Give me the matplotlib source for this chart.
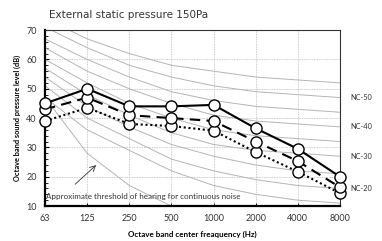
import numpy as np
import matplotlib
matplotlib.use("Agg")
import matplotlib.pyplot as plt

freq_labels = ["63", "125", "250", "500", "1000", "2000", "4000", "8000"]

# measured sound levels (dB)
solid_db = [45, 50, 44, 44, 44.5, 36.5, 29.5, 20]
dashed_db = [43, 47, 41, 40, 39, 32, 25.3, 16.4]
dotted_db = [39, 43.5, 38, 37.3, 35.7, 28.4, 21.7, 14.4]

# NC reference curves
nc_names = ["NC-15", "NC-20", "NC-25", "NC-30", "NC-35", "NC-40", "NC-45",
            "NC-50", "NC-55"]
nc_values = [
    [47, 36, 29, 22, 17, 14, 12, 11],
    [51, 40, 33, 26, 22, 19, 17, 16],
    [54, 44, 37, 31, 27, 24, 22, 21],
    [57, 48, 41, 35, 31, 29, 28, 27],
    [60, 52, 45, 40, 36, 34, 33, 32],
    [64, 56, 50, 45, 41, 39, 38, 37],
    [67, 60, 54, 49, 46, 44, 43, 42],
    [71, 64, 58, 54, 51, 49, 48, 47],
    [74, 67, 62, 58, 56, 54, 53, 52],
]
nc_labelled = ["NC-20", "NC-30", "NC-40", "NC-50"]

# approximate threshold of hearing
threshold_db = [47, 28, 17, 10, 5, 2, 1, 1]

x = np.arange(len(freq_labels))

fig = plt.figure(figsize=(3.82, 2.41), dpi=100)
ax = fig.add_axes([0.118, 0.145, 0.772, 0.73])

for name, vals in zip(nc_names, nc_values):
    ax.plot(x, vals, color="#b4b4b4", lw=0.7, zorder=1)
ax.plot(x, threshold_db, color="#b4b4b4", lw=0.7, zorder=1)

for name, vals in zip(nc_names, nc_values):
    if name in nc_labelled:
        ax.text(1.035, vals[-1], name, transform=ax.get_yaxis_transform(),
                fontsize=5.3, family="Lato", color="#333333", va="center", ha="left")

mk = dict(marker="o", markersize=8, markerfacecolor="white",
          markeredgecolor="black", markeredgewidth=1.0, clip_on=False, zorder=5)
ax.plot(x, dotted_db, color="black", lw=1.5, ls=(0, (1, 1.3)), **mk)
ax.plot(x, dashed_db, color="black", lw=1.5, ls=(0, (5, 3)), **mk)
ax.plot(x, solid_db, color="black", lw=1.5, ls="-", **mk)

ax.annotate("", xy=(1.26, 24.6), xytext=(0.665, 16.8),
            arrowprops=dict(arrowstyle="->", color="#333333", lw=0.6))
ax.text(0.03, 13.4, "Approximate threshold of hearing for continuous noise",
        fontsize=5.8, family="Lato", color="#333333", va="center", ha="left")

ax.set_xlim(0, 7)
ax.set_ylim(10, 70)
ax.set_xticks(x)
ax.set_xticklabels(freq_labels)
ax.set_yticks(np.arange(10, 71, 10))
ax.set_yticks(np.arange(10, 71, 2), minor=True)
ax.tick_params(axis="both", which="both", direction="in", labelsize=6.5,
               labelcolor="#333333", pad=6)
ax.tick_params(axis="y", which="major", length=3, width=0.8)
ax.tick_params(axis="y", which="minor", length=2, width=0.6)
ax.tick_params(axis="x", length=2, width=0.6)
for lbl in ax.get_xticklabels() + ax.get_yticklabels():
    lbl.set_family("Lato")

ax.grid(True, which="major", color="#bbbbbb", lw=0.6, ls=(0, (1, 1)))
ax.set_axisbelow(True)

ax.spines["left"].set_linewidth(1.6)
ax.spines["bottom"].set_linewidth(1.6)
ax.spines["top"].set_linewidth(0.8)
ax.spines["right"].set_linewidth(0.8)
ax.spines["top"].set_color("#333333")
ax.spines["right"].set_color("#333333")

ax.set_xlabel("Octave band center freaquency (Hz)", fontsize=5.8, family="Lato",
              fontweight="bold", labelpad=5)
ax.set_ylabel("Octave band sound pressure level (dB)", fontsize=5.3, family="Lato",
              fontweight="bold", labelpad=4)

fig.text(0.127, 0.925, "External static pressure 150Pa", fontsize=7.5,
         family="DejaVu Sans", color="#333333", ha="left", va="baseline")

fig.savefig("out.png", dpi=100)
